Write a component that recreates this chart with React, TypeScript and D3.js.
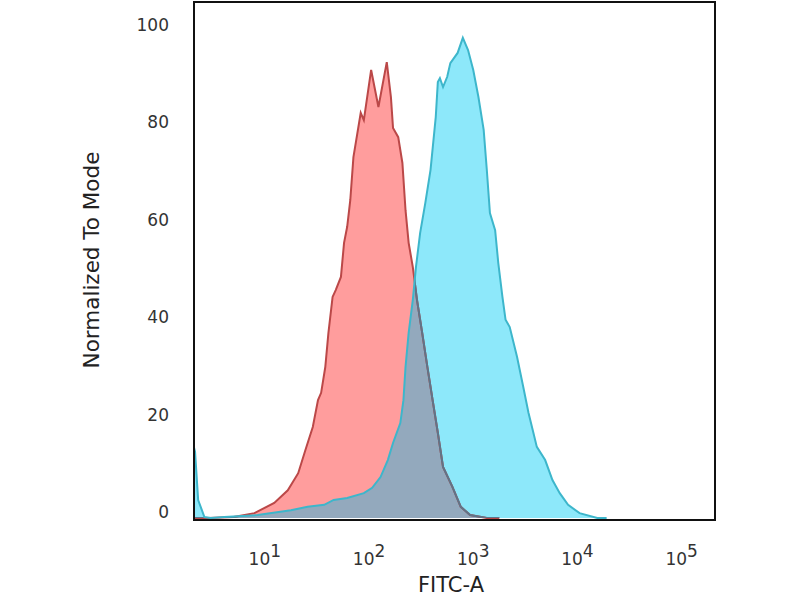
import * as d3 from "d3"

// FITC-A exponents (log10) and normalized-to-mode heights
const isotypeExp = [0.32, 0.39, 0.46, 0.7, 0.9, 1.09, 1.22, 1.32, 1.39, 1.46, 1.51, 1.54, 1.58, 1.61, 1.65, 1.68, 1.73, 1.76, 1.79, 1.82, 1.85, 1.92, 1.95, 2.02, 2.09, 2.17, 2.21, 2.23, 2.28, 2.32, 2.35, 2.38, 2.42, 2.46, 2.51, 2.56, 2.61, 2.66, 2.71, 2.8, 2.88, 2.97, 3.13, 3.25]
const isotypeVal = [0, 0, 0, 0.2, 1.0, 3.1, 5.7, 9.2, 14.0, 18.7, 24.2, 25.7, 31.0, 38.0, 45.4, 46.8, 49.5, 56.5, 59.8, 65.3, 74.1, 83.2, 81.7, 92.0, 84.4, 93.6, 86.4, 80.1, 78.2, 72.9, 63.2, 56.5, 51.5, 44.8, 38.0, 31.0, 24.2, 17.5, 10.5, 6.4, 2.3, 0.6, 0, 0]

const stainedExp = [0.32, 0.33, 0.36, 0.42, 0.48, 0.61, 0.93, 1.25, 1.41, 1.57, 1.66, 1.79, 1.95, 2.03, 2.11, 2.18, 2.23, 2.3, 2.33, 2.35, 2.38, 2.42, 2.45, 2.49, 2.54, 2.59, 2.64, 2.66, 2.68, 2.71, 2.75, 2.78, 2.85, 2.9, 2.95, 3.0, 3.05, 3.1, 3.13, 3.16, 3.21, 3.24, 3.28, 3.31, 3.35, 3.42, 3.48, 3.53, 3.57, 3.61, 3.69, 3.76, 3.83, 3.91, 4.02, 4.19, 4.28]
const stainedVal = [14.5, 13.6, 3.7, 0.2, 0, 0.2, 0.6, 1.6, 2.3, 2.7, 3.7, 4.1, 5.1, 6.2, 8.4, 11.9, 15.4, 19.5, 24.2, 31.0, 38.0, 44.8, 51.5, 58.5, 64.7, 71.5, 82.3, 89.5, 90.3, 88.5, 90.6, 93.4, 95.5, 98.6, 96.1, 92.0, 86.4, 79.7, 71.5, 62.6, 59.1, 52.4, 45.4, 40.7, 39.2, 33.1, 26.9, 21.6, 18.1, 14.6, 11.9, 7.8, 5.1, 2.7, 1.0, 0, 0]

const yTicks = [0, 20, 40, 60, 80, 100]
const xTickExp = [1, 2, 3, 4, 5]

const frame = { left: 194, right: 715, top: 2, bottom: 520 }

type Pt = { x: number; y: number }
const toPts = (exp: number[], val: number[]): Pt[] =>
  exp.map((e, i) => ({ x: Math.pow(10, e), y: val[i] }))

export default function App() {
  const x = d3
    .scaleLog()
    .domain([Math.pow(10, 0.32), Math.pow(10, 5.32)])
    .range([frame.left, frame.right])
  const y = d3.scaleLinear().domain([0, 100]).range([518, 31])

  const area = d3
    .area<Pt>()
    .x(d => x(d.x))
    .y0(y(0))
    .y1(d => y(d.y))
  const line = d3
    .line<Pt>()
    .x(d => x(d.x))
    .y(d => y(d.y))

  const red = toPts(isotypeExp, isotypeVal)
  const blue = toPts(stainedExp, stainedVal)
  const font = "'DejaVu Sans', sans-serif"

  return (
    <svg width={800} height={600} style={{ position: "fixed", left: 0, top: 0, background: "#fff" }}>
      <defs>
        <clipPath id="plot">
          <rect x={frame.left} y={frame.top} width={frame.right - frame.left} height={frame.bottom - frame.top} />
        </clipPath>
        <clipPath id="blueArea">
          <path d={area(blue) || ""} />
        </clipPath>
      </defs>

      <g clipPath="url(#plot)">
        <path d={area(red) || ""} fill="#ff9d9d" />
        <path d={area(blue) || ""} fill="#8de8fa" />
        <path d={area(red) || ""} fill="#93a9bd" clipPath="url(#blueArea)" />
        <path d={line(red) || ""} fill="none" stroke="#bb4848" strokeWidth={2} />
        <g clipPath="url(#blueArea)">
          <path d={line(red) || ""} fill="none" stroke="#5f7488" strokeWidth={2} />
        </g>
        <path d={line(blue) || ""} fill="none" stroke="#3db6cb" strokeWidth={2} />
      </g>

      <rect
        x={frame.left}
        y={frame.top}
        width={frame.right - frame.left}
        height={frame.bottom - frame.top}
        fill="none"
        stroke="#111"
        strokeWidth={2}
      />

      {yTicks.map(t => (
        <text key={t} x={169} y={y(t) - 6} dy="0.35em" textAnchor="end" fontFamily={font} fontSize={17} fill="#333">
          {t}
        </text>
      ))}

      {xTickExp.map(e => (
        <text key={e} x={x(Math.pow(10, e))} y={565} textAnchor="middle" fontFamily={font} fontSize={17} fill="#333">
          10
          <tspan dy={-8}>{e}</tspan>
        </text>
      ))}

      <text x={451} y={592} textAnchor="middle" fontFamily={font} fontSize={21} fill="#222">
        FITC-A
      </text>
      <text
        transform="translate(99,260) rotate(-90)"
        textAnchor="middle"
        fontFamily={font}
        fontSize={21.5}
        fill="#222"
      >
        Normalized To Mode
      </text>
    </svg>
  )
}
